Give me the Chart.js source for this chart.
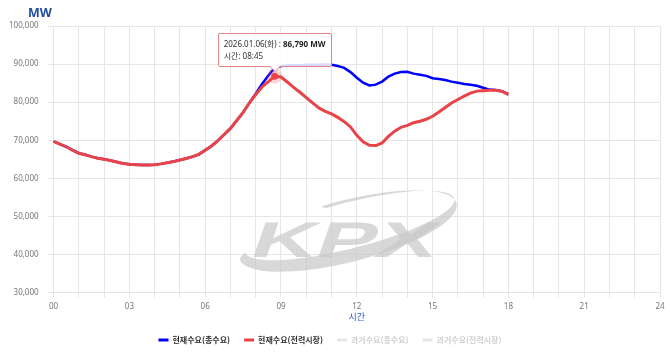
<!DOCTYPE html>
<html>
<head>
<meta charset="utf-8">
<script src="https://cdn.jsdelivr.net/npm/chart.js@4/dist/chart.umd.min.js"></script>
<style>
    body { margin: 0; background: #fff; font-family: "Noto Sans", "Noto Sans CJK KR", sans-serif; }
    #wrap { position: relative; width: 670px; height: 354px; }
    #unit { position: absolute; left: 28px; top: 4px; font: bold 12.5px "Noto Sans", "Noto Sans CJK KR", sans-serif; color: #1f4e9c; }
    #tip {
        position: absolute; box-sizing: border-box; padding: 4px 5px 4px 5px;
        background: rgba(255, 255, 255, 0.85); border: 1px solid #e38585; border-radius: 2px;
        font: 8px "Noto Sans", "Noto Sans CJK KR", sans-serif; line-height: 12px; color: #333; white-space: nowrap;
        pointer-events: none; opacity: 0;
    }
    #tip b { color: #222; }
    #tip:after, #tip:before {
        content: ""; position: absolute; left: 50%; border: solid transparent;
    }
    #tip:before { top: 100%; margin-left: -6px; border-width: 6px; border-top-color: #e38585; }
    #tip:after { top: 100%; margin-left: -5px; border-width: 5px; border-top-color: #fff; }
</style>
</head>
<body>
<div id="wrap">
    <canvas id="demandChart"></canvas>
    <div id="unit">MW</div>
    <div id="tip"></div>
</div>
<script>
/*** Data ***/
const seriesNames = ['현재수요(총수요)', '현재수요(전력시장)', '과거수요(총수요)', '과거수요(전력시장)'];
const hourTicks = ['00', '03', '06', '09', '12', '15', '18', '21', '24'];
const tooltipDate = '2026.01.06(화)';

// 15 min steps, 00:00 .. 18:00
const totalDemand = [
    69700, 69000, 68300, 67400, 66600, 66200, 65700, 65300,
    65000, 64700, 64300, 63900, 63700, 63600, 63500, 63500,
    63600, 63800, 64100, 64400, 64800, 65200, 65700, 66300,
    67400, 68500, 69900, 71500, 73100, 75200, 77300, 79800,
    82200, 84800, 87000, 89000, 89500, 89600, 89700, 89700,
    89800, 89800, 89800, 89900, 89800, 89500, 89000, 87900,
    86400, 85100, 84400, 84600, 85400, 86700, 87500, 87900,
    88000, 87500, 87200, 86900, 86300, 86100, 85800, 85400,
    85100, 84800, 84600, 84300, 83800, 83300, 83200, 82900,
    82100
];
const marketDemand = [
    69700, 69000, 68300, 67400, 66600, 66200, 65700, 65300,
    65000, 64700, 64300, 63900, 63700, 63600, 63500, 63500,
    63600, 63800, 64100, 64400, 64800, 65200, 65700, 66300,
    67400, 68500, 69900, 71500, 73100, 75200, 77300, 79800,
    82000, 84000, 85400, 86790, 86600, 85300, 83900, 82600,
    81200, 79800, 78500, 77600, 76900, 76000, 74900, 73500,
    71300, 69600, 68700, 68600, 69300, 71000, 72400, 73400,
    73900, 74600, 75000, 75500, 76300, 77400, 78600, 79800,
    80700, 81600, 82400, 82900, 83000, 83100, 83100, 82800,
    82000
];
const pastTotalDemand = [];
const pastMarketDemand = [];

/*** Labels 00:00 .. 24:00 ***/
var timeLabels = [];
for (var h = 0; h <= 24; h++) {
    for (var m = 0; m < 60; m += 15) {
        if (h === 24 && m > 0) break;
        timeLabels.push(String(h).padStart(2, '0') + ':' + String(m).padStart(2, '0'));
    }
}

const numberFormat = new Intl.NumberFormat('en-US');
const blue = 'rgb(0, 0, 255)';
const red = 'rgb(232, 68, 72)';
const faded = 'rgb(230, 230, 230)';
const gridColor = '#e6e6e6';

/*** KPX watermark ***/
const watermark = {
    id: 'watermark',
    beforeDatasetsDraw(chart) {
        const ctx = chart.ctx;
        ctx.save();
        ctx.fillStyle = 'rgba(200, 200, 200, 0.7)';
        // swoosh
        ctx.translate(348, 231);
        ctx.rotate(-0.25);
        ctx.beginPath();
        ctx.ellipse(0, 0, 112, 31, 0, Math.PI, -1.75, true);
        ctx.ellipse(3, -5, 108, 23, 0, -1.75, Math.PI, false);
        ctx.closePath();
        ctx.fill();
        ctx.restore();

        ctx.save();
        ctx.fillStyle = 'rgba(200, 200, 200, 0.7)';
        ctx.translate(340, 257);
        ctx.transform(1.8, 0, -0.35, 1, 0, 0);
        ctx.font = 'bold 50px "Liberation Sans", sans-serif';
        ctx.textAlign = 'center';
        ctx.textBaseline = 'alphabetic';
        ctx.fillText('KPX', 0, 0);
        ctx.restore();
    }
};

/*** Tooltip ***/
function drawTip(context) {
    const tt = context.tooltip;
    const el = document.getElementById('tip');
    if (tt.opacity === 0) {
        el.style.opacity = 0;
        return;
    }
    const p = tt.dataPoints[0];
    el.innerHTML = tooltipDate + ' : <b>' + numberFormat.format(p.raw) + ' MW</b><br>시간: ' + p.label;
    el.style.left = (tt.caretX - el.offsetWidth / 2) + 'px';
    el.style.top = (tt.caretY - el.offsetHeight - 9) + 'px';
    el.style.opacity = 1;
}

/*** Chart ***/
const demandChart = new Chart(document.getElementById('demandChart'), {
    type: 'line',
    data: {
        labels: timeLabels,
        datasets: [
            {
                label: seriesNames[0],
                data: totalDemand,
                borderColor: blue,
                backgroundColor: blue,
                borderWidth: 2.5,
                pointRadius: 0,
                order: 2
            },
            {
                label: seriesNames[1],
                data: marketDemand,
                borderColor: red,
                backgroundColor: red,
                borderWidth: 3,
                pointRadius: 0,
                pointHoverRadius: 3.5,
                pointHoverBackgroundColor: red,
                pointHoverBorderColor: 'rgba(232, 68, 72, 0.22)',
                pointHoverBorderWidth: 8,
                order: 1
            },
            {
                label: seriesNames[2],
                data: pastTotalDemand,
                borderColor: faded,
                backgroundColor: faded,
                borderWidth: 1,
                pointRadius: 0,
                order: 3
            },
            {
                label: seriesNames[3],
                data: pastMarketDemand,
                borderColor: faded,
                backgroundColor: faded,
                borderWidth: 1,
                pointRadius: 0,
                order: 4
            }
        ]
    },
    options: {
        responsive: true,
        maintainAspectRatio: false,
        animation: false,
        layout: {
            padding: { top: 26, right: 10, left: 0, bottom: 0 }
        },
        plugins: {
            legend: {
                position: 'bottom',
                labels: {
                    boxWidth: 10,
                    boxHeight: 3,
                    padding: 14,
                    font: { family: '"Noto Sans CJK KR", sans-serif', size: 8, weight: 'bold' },
                    generateLabels: function (chart) {
                        return chart.data.datasets.map(function (ds, i) {
                            return {
                                text: ds.label,
                                fillStyle: ds.borderColor,
                                strokeStyle: ds.borderColor,
                                lineWidth: 0,
                                fontColor: i < 2 ? '#333' : '#d0d0d0',
                                hidden: false,
                                datasetIndex: i
                            };
                        });
                    }
                }
            },
            tooltip: {
                enabled: false,
                external: drawTip
            }
        },
        scales: {
            x: {
                grid: {
                    color: function (c) { return c.index % 4 === 0 ? gridColor : 'rgba(0,0,0,0)'; },
                    tickLength: 5
                },
                border: { color: gridColor },
                ticks: {
                    autoSkip: false,
                    maxRotation: 0,
                    color: '#777',
                    padding: 4,
                    font: { family: '"Noto Sans", sans-serif', size: 8 },
                    callback: function (value, index) {
                        return index % 12 === 0 ? hourTicks[index / 12] : '';
                    }
                },
                title: {
                    display: true,
                    text: '시간',
                    color: '#2a5bd7',
                    padding: { top: -4, bottom: 0 },
                    font: { family: '"Noto Sans CJK KR", sans-serif', size: 9 }
                }
            },
            y: {
                min: 30000,
                max: 100000,
                grid: { color: gridColor, tickLength: 6 },
                border: { display: false },
                ticks: {
                    stepSize: 10000,
                    color: '#777',
                    padding: 9,
                    font: { family: '"Noto Sans", sans-serif', size: 8 },
                    callback: function (value) { return numberFormat.format(value); }
                }
            }
        }
    },
    plugins: [watermark]
});

demandChart.setActiveElements([{ datasetIndex: 1, index: 35 }]);
demandChart.tooltip.setActiveElements([{ datasetIndex: 1, index: 35 }], { x: 0, y: 0 });
demandChart.update();
</script>
</body>
</html>
